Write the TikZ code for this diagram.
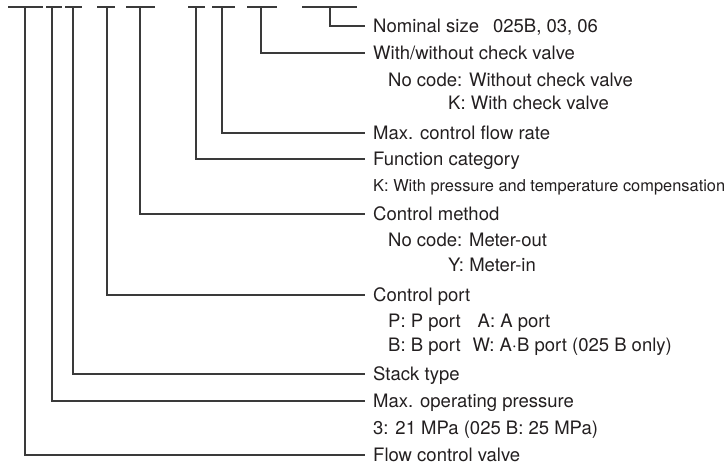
\documentclass[tikz,border=0pt]{standalone}
\usepackage{fontspec}
\setmainfont{TeX Gyre Heros}
\definecolor{ink}{HTML}{231F20}
\definecolor{wire}{HTML}{3A3A3A}
\begin{document}
\begin{tikzpicture}[x=1pt,y=-1pt,
  lbl/.style={anchor=base west,inner sep=0pt,text=ink,font=\fontsize{18.5}{22}\selectfont},
  small/.style={anchor=base west,inner sep=0pt,text=ink,font=\fontsize{16.4}{20}\selectfont},
  bar/.style={draw=wire,line width=1.1pt},
  lead/.style={draw=wire,line width=1.1pt}]
\useasboundingbox (0,0) rectangle (727,464);
% top bars (code positions)
\draw[bar] (8,7) -- (43,7);
\draw[bar] (46,7) -- (62,7);
\draw[bar] (65,7) -- (82,7);
\draw[bar] (97,7) -- (115,7);
\draw[bar] (126,7) -- (155,7);
\draw[bar] (188,7) -- (205,7);
\draw[bar] (212,7) -- (235,7);
\draw[bar] (247,7) -- (277,7);
\draw[bar] (302,7) -- (357,7);
\coordinate (t1) at (25,7);
\coordinate (t2) at (52,7);
\coordinate (t3) at (73,7);
\coordinate (t4) at (107,7);
\coordinate (t5) at (140,7);
\coordinate (t6) at (196,7);
\coordinate (t7) at (222,7);
\coordinate (t8) at (261,7);
\coordinate (t9) at (330,7);
% leader ends
\coordinate (e9) at (365,26);
\coordinate (e8) at (365,53);
\coordinate (e7) at (365,133);
\coordinate (e6) at (365,159);
\coordinate (e5) at (365,214);
\coordinate (e4) at (365,295);
\coordinate (e3) at (365,374);
\coordinate (e2) at (365,401);
\coordinate (e1) at (365,455);
% labels
\node[lbl] (n9) at (373,32) {Nominal size\hspace{14pt}025B, 03, 06};
\node[lbl] (n8) at (373,59) {With/without check valve};
\node[lbl] (s8a) at (388,86) {No code: Without check valve};
\node[lbl] (s8b) at (448,109) {K: With check valve};
\node[lbl] (n7) at (373,139) {Max. control flow rate};
\node[lbl] (n6) at (373,165) {Function category};
\node[small] (s6a) at (373,191.5) {K: With pressure and temperature compensation};
\node[lbl] (n5) at (373,220) {Control method};
\node[lbl] (s5a) at (388,246) {No code: Meter-out};
\node[lbl] (s5b) at (448,271) {Y: Meter-in};
\node[lbl] (n4) at (373,301) {Control port};
\node[lbl] (s4a) at (388,327) {P: P port\hspace{17pt}A: A port};
\node[lbl] (s4b) at (388,351) {B: B port\hspace{12pt}W: A\textperiodcentered B port (025 B only)};
\node[lbl] (n3) at (373,380) {Stack type};
\node[lbl] (n2) at (373,407) {Max. operating pressure};
\node[lbl] (s2a) at (373,434) {3: 21 MPa (025 B: 25 MPa)};
\node[lbl] (n1) at (373,461) {Flow control valve};
% connectors
\foreach \i in {1,...,9} {\draw[lead] (t\i) |- (e\i);}
\end{tikzpicture}
\end{document}
